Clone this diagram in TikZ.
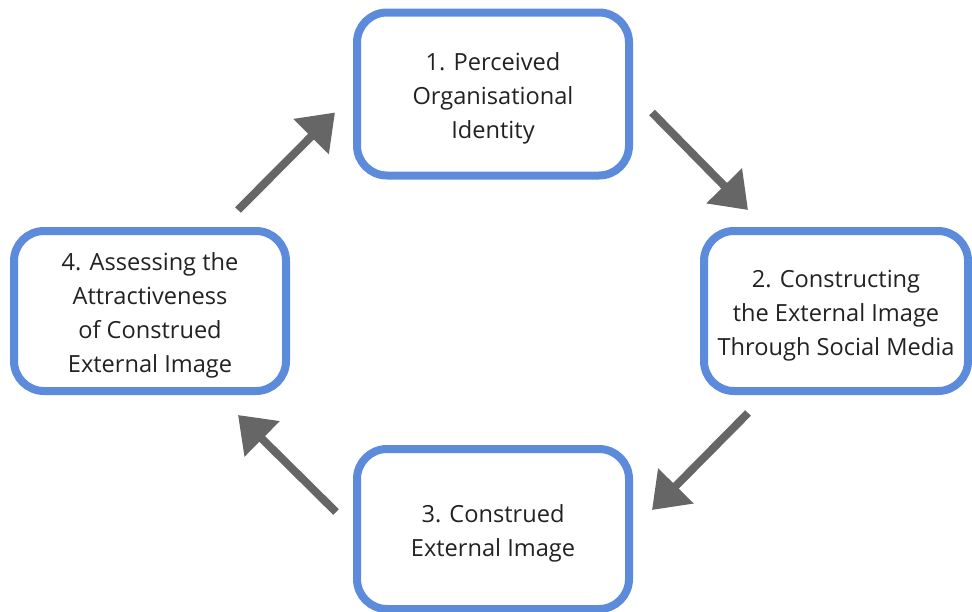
\documentclass[tikz,border=0pt]{standalone}
\usepackage{fontspec}
\setmainfont{Open Sans}
\usetikzlibrary{arrows.meta,calc}

\definecolor{boxblue}{RGB}{91,139,218}
\definecolor{arrowgrey}{RGB}{102,102,102}
\definecolor{textgrey}{RGB}{34,34,34}

\newcommand{\firstline}{\rule{0pt}{13pt}}

\begin{document}
\begin{tikzpicture}[x=0.5pt, y=-0.5pt]
    \useasboundingbox (0,0) rectangle (972,611);

    \begin{scope}[every node/.style={rectangle, rounded corners=15pt, draw=boxblue, line width=4pt, fill=white,
        minimum width=136pt, minimum height=80pt, align=center, text=textgrey, font=\fontsize{11.8}{17}\selectfont}]
        \node (1) at (493,94) [minimum height=81.5pt] {\firstline 1. Perceived\\Organisational\\Identity};
        \node (2) at (836,311) [minimum width=132pt] {\firstline 2. Constructing\\the External Image\\Through Social Media};
        \node (3) at (493,529) {\firstline 3. Construed\\External Image};
        \node (4) at (150,311) {\firstline 4. Assessing the\\Attractiveness\\of Construed\\External Image};
    \end{scope}

    \begin{scope}[every edge/.style={draw=arrowgrey, line width=4pt, -{Triangle[length=17pt,width=24pt]}}]
        \path ($(1.south east)+(19,-67)$) edge ($(2.north west)+(48,-17)$);
        \path ($(2.south west)+(48,18)$) edge ($(3.north east)+(19,65)$);
        \path ($(3.north west)+(-17,67)$) edge ($(4.south east)+(-52,20)$);
        \path ($(4.north east)+(-52,-17)$) edge ($(1.south west)+(-18,-67)$);
    \end{scope}
\end{tikzpicture}
\end{document}
